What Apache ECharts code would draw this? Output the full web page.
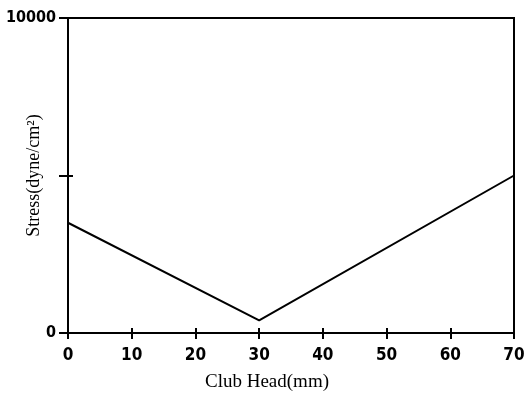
<!DOCTYPE html>
<html>
<head>
<meta charset="utf-8">
<style>
    html, body { margin: 0; padding: 0; background: #fff; }
    #chart { width: 524px; height: 405px; }
</style>
<script src="https://cdn.jsdelivr.net/npm/echarts@6/dist/echarts.min.js"></script>
</head>
<body>
<div id="chart"></div>
<script>
    // 数据
    const clubHead = [0, 30, 70];
    const stress = [3500, 400, 5000];
    const xTicks = [0, 10, 20, 30, 40, 50, 60, 70];
    const yLabels = [0, 10000];

    const chart = echarts.init(document.getElementById('chart'));
    const tickFont = '"DejaVu Sans Condensed", "Liberation Sans", sans-serif';
    const titleFont = '"Liberation Serif", serif';
    const black = { color: '#000', width: 2 };
    const gridBox = { left: 68, right: 10, top: 18, bottom: 72, containLabel: false, outerBoundsMode: 'none' };

    let baseX = {
        type: 'value',
        min: xTicks[0],
        max: xTicks[xTicks.length - 1],
        interval: 10,
        position: 'bottom',
        splitLine: { show: false }
    };
    let baseY = {
        type: 'value',
        min: 0,
        max: 10000,
        interval: 5000,
        position: 'left',
        splitLine: { show: false }
    };

    chart.setOption({
        animation: false,
        grid: [
            Object.assign({ show: true, borderColor: '#000', borderWidth: 2 }, gridBox),
            Object.assign({}, gridBox)
        ],
        xAxis: [
            Object.assign({}, baseX, {
                gridIndex: 0,
                axisLine: { show: true, lineStyle: black },
                name: 'Club Head(mm)',
                nameLocation: 'middle',
                nameGap: 40,
                nameTextStyle: { fontFamily: titleFont, fontSize: 19, color: '#000', padding: [0, 48, 0, 0] },
                axisTick: { show: true, inside: false, length: 6, lineStyle: black },
                axisLabel: { fontFamily: tickFont, fontSize: 17, fontWeight: 'bold', color: '#000', margin: 14 }
            }),
            Object.assign({}, baseX, {
                gridIndex: 1,
                axisLine: { show: false },
                axisTick: { show: true, inside: true, length: 5, lineStyle: black },
                axisLabel: { show: false }
            })
        ],
        yAxis: [
            Object.assign({}, baseY, {
                gridIndex: 0,
                axisLine: { show: true, lineStyle: black },
                name: 'Stress(dyne/cm²)',
                nameLocation: 'middle',
                nameGap: 25,
                nameMoveOverlap: false,
                nameTextStyle: { fontFamily: titleFont, fontSize: 18, color: '#000' },
                axisTick: { show: true, inside: false, length: 9, lineStyle: black },
                axisLabel: {
                    fontFamily: tickFont, fontSize: 16, fontWeight: 'bold', color: '#000', margin: 12,
                    formatter: function (v) { return yLabels.indexOf(v) >= 0 ? String(v) : ''; }
                }
            }),
            Object.assign({}, baseY, {
                gridIndex: 1,
                axisLine: { show: false },
                axisTick: { show: true, inside: true, length: 5, lineStyle: black },
                axisLabel: { show: false }
            })
        ],
        series: [
            {
                type: 'line',
                xAxisIndex: 0,
                yAxisIndex: 0,
                data: clubHead.map(function (x, i) { return [x, stress[i]]; }),
                showSymbol: false,
                lineStyle: { color: '#000', width: 2 }
            }
        ]
    });
</script>
</body>
</html>
